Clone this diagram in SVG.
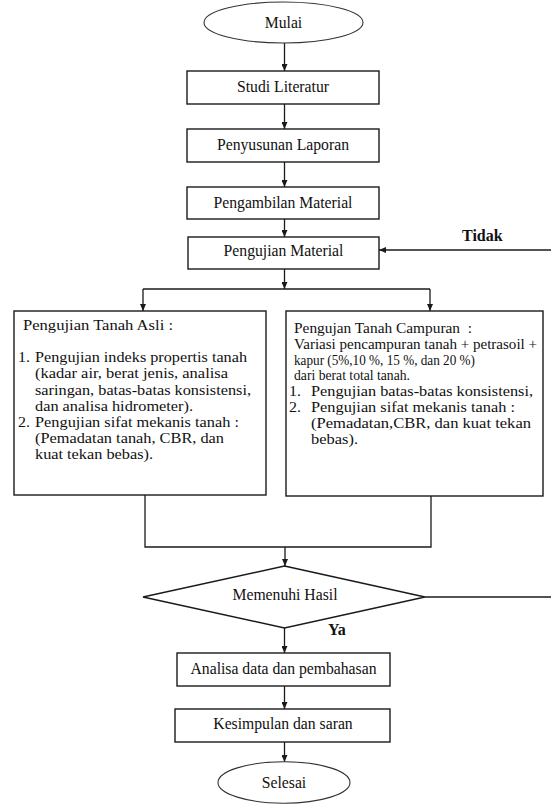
<svg xmlns="http://www.w3.org/2000/svg" width="551" height="805" viewBox="0 0 551 805">
<style>
  .shape { fill: #fff; stroke: #1a1a1a; stroke-width: 1.4; }
  .term { fill: #fff; stroke: #333; stroke-width: 1.1; }
  .conn { fill: none; stroke: #1a1a1a; stroke-width: 1.3; }
  text { font-family: "Liberation Serif", "Times New Roman", Tinos, serif; fill: #111; }
  .lbl { font-size: 15.7px; text-anchor: middle; }
  .body { font-size: 14.3px; }
  .bold { font-size: 16px; font-weight: bold; }
</style>
<defs>
  <marker id="arr" markerWidth="7" markerHeight="6" refX="7" refY="3" orient="auto" markerUnits="userSpaceOnUse">
    <path d="M0,0 L7,3 L0,6 z" fill="#1a1a1a"/>
  </marker>
</defs>

<g id="connectors">
  <path class="conn" d="M284.5,43 V71" marker-end="url(#arr)"/>
  <path class="conn" d="M284.5,104 V129" marker-end="url(#arr)"/>
  <path class="conn" d="M284.5,162 V187" marker-end="url(#arr)"/>
  <path class="conn" d="M284.5,219 V237" marker-end="url(#arr)"/>
  <path class="conn" d="M284.5,269 V289" marker-end="url(#arr)"/>
  <path class="conn" d="M143,289 H430"/>
  <path class="conn" d="M143,289 V311" marker-end="url(#arr)"/>
  <path class="conn" d="M430,289 V311" marker-end="url(#arr)"/>
  <path class="conn" d="M145,495 V547 H431 V496"/>
  <path class="conn" d="M285,547 V566" marker-end="url(#arr)"/>
  <path class="conn" d="M284.5,628 V653" marker-end="url(#arr)"/>
  <path class="conn" d="M284.5,686 V709" marker-end="url(#arr)"/>
  <path class="conn" d="M284.5,742 V762" marker-end="url(#arr)"/>
  <path class="conn" d="M425,597 H551"/>
  <path class="conn" d="M551,250 H379" marker-end="url(#arr)"/>
  <text class="bold" x="462" y="241">Tidak</text>
  <text class="bold" x="328" y="635">Ya</text>
</g>

<g id="mulai">
  <ellipse class="term" cx="283.5" cy="22.5" rx="79.5" ry="20.5"/>
  <text class="lbl" x="283.5" y="28">Mulai</text>
</g>

<g id="studi-literatur">
  <rect class="shape" x="187" y="71" width="192" height="33"/>
  <text class="lbl" x="283" y="92">Studi Literatur</text>
</g>

<g id="penyusunan-laporan">
  <rect class="shape" x="187" y="129" width="192" height="33"/>
  <text class="lbl" x="283" y="149.5">Penyusunan Laporan</text>
</g>

<g id="pengambilan-material">
  <rect class="shape" x="187" y="187" width="192" height="32"/>
  <text class="lbl" x="283" y="207.5">Pengambilan Material</text>
</g>

<g id="pengujian-material">
  <rect class="shape" x="188" y="237" width="191" height="32"/>
  <text class="lbl" x="283.5" y="256">Pengujian Material</text>
</g>

<g id="tanah-asli">
  <rect class="shape" x="14" y="311" width="252" height="184"/>
  <text class="body" x="23" y="330" textLength="150" lengthAdjust="spacingAndGlyphs">Pengujian Tanah Asli :</text>
  <text class="body" x="18" y="362" textLength="12" lengthAdjust="spacingAndGlyphs">1.</text>
  <text class="body" x="35" y="362" textLength="212" lengthAdjust="spacingAndGlyphs">Pengujian indeks propertis tanah</text>
  <text class="body" x="35" y="378" textLength="193" lengthAdjust="spacingAndGlyphs">(kadar air, berat jenis, analisa</text>
  <text class="body" x="35" y="394.5" textLength="216" lengthAdjust="spacingAndGlyphs">saringan, batas-batas konsistensi,</text>
  <text class="body" x="35" y="410.5" textLength="158" lengthAdjust="spacingAndGlyphs">dan analisa hidrometer).</text>
  <text class="body" x="18" y="427" textLength="12" lengthAdjust="spacingAndGlyphs">2.</text>
  <text class="body" x="35" y="427" textLength="204" lengthAdjust="spacingAndGlyphs">Pengujian sifat mekanis tanah :</text>
  <text class="body" x="35" y="443" textLength="189" lengthAdjust="spacingAndGlyphs">(Pemadatan tanah, CBR, dan</text>
  <text class="body" x="35" y="459" textLength="118" lengthAdjust="spacingAndGlyphs">kuat tekan bebas).</text>
</g>

<g id="tanah-campuran">
  <rect class="shape" x="286" y="311" width="257" height="185"/>
  <text class="body" x="294" y="333" xml:space="preserve" textLength="178" lengthAdjust="spacingAndGlyphs">Pengujan Tanah Campuran  :</text>
  <text class="body" x="294" y="349" textLength="243" lengthAdjust="spacingAndGlyphs">Variasi pencampuran tanah + petrasoil +</text>
  <text class="body" x="294" y="364.5" textLength="181" lengthAdjust="spacingAndGlyphs">kapur (5%,10 %, 15 %, dan 20 %)</text>
  <text class="body" x="294" y="380" textLength="116" lengthAdjust="spacingAndGlyphs">dari berat total tanah.</text>
  <text class="body" x="289" y="396" textLength="12" lengthAdjust="spacingAndGlyphs">1.</text>
  <text class="body" x="311" y="396" textLength="222" lengthAdjust="spacingAndGlyphs">Pengujian batas-batas konsistensi,</text>
  <text class="body" x="289" y="412" textLength="12" lengthAdjust="spacingAndGlyphs">2.</text>
  <text class="body" x="311" y="412" textLength="204" lengthAdjust="spacingAndGlyphs">Pengujian sifat mekanis tanah :</text>
  <text class="body" x="311" y="428" textLength="220" lengthAdjust="spacingAndGlyphs">(Pemadatan,CBR, dan kuat tekan</text>
  <text class="body" x="311" y="444" textLength="47" lengthAdjust="spacingAndGlyphs">bebas).</text>
</g>

<g id="memenuhi-hasil">
  <polygon class="shape" points="284.5,566 425,597 284.5,628 143,597"/>
  <text class="lbl" x="285" y="600">Memenuhi Hasil</text>
</g>

<g id="analisa-data">
  <rect class="shape" x="177" y="653" width="213" height="33"/>
  <text class="lbl" x="283.5" y="673.5">Analisa data dan pembahasan</text>
</g>

<g id="kesimpulan">
  <rect class="shape" x="175" y="709" width="215" height="33"/>
  <text class="lbl" x="283" y="729">Kesimpulan dan saran</text>
</g>

<g id="selesai">
  <ellipse class="term" cx="284" cy="782.5" rx="66" ry="20.7"/>
  <text class="lbl" x="284" y="788">Selesai</text>
</g>
</svg>
